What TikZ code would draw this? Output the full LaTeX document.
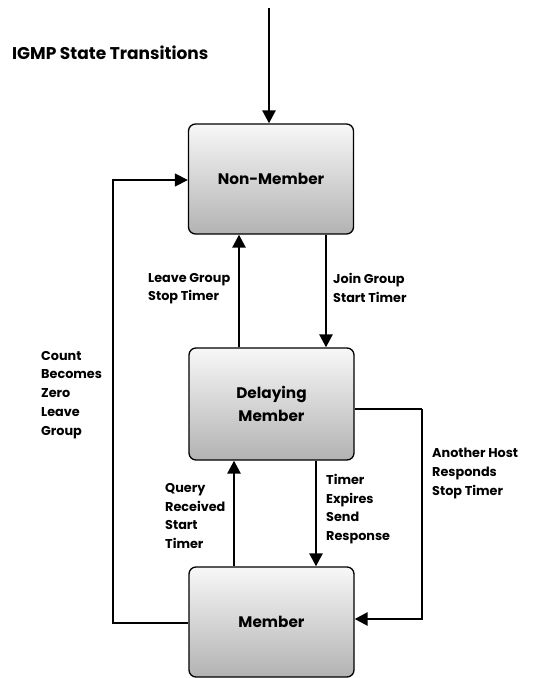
\documentclass[tikz,border=0pt]{standalone}
\usepackage{fontspec}
\setmainfont{Poppins}
\usetikzlibrary{arrows.meta}
\begin{document}
\begin{tikzpicture}[x=1pt,y=1pt,
  state/.style={draw=black, line width=1.3pt, rounded corners=7pt,
    top color=gray!6, bottom color=gray!60, minimum width=165pt,
    font=\bfseries\fontsize{15.3}{23}\selectfont, align=center},
  thick arrow/.style={line width=2.6pt, -{Triangle[length=13pt,width=13pt]}},
  thin arrow/.style={line width=1.3pt, -{Triangle[length=13pt,width=13pt]}},
  lbl/.style={font=\bfseries\fontsize{12.8}{18.7}\selectfont, align=left,
    anchor=north west, inner sep=0pt}]
\useasboundingbox (0,0) rectangle (545,-678);

% states
\node[state, minimum height=110pt] (nm) at (271,-179) {Non-Member};
\node[state, minimum height=112pt] (dm) at (271.5,-404) {Delaying\\Member};
\node[state, minimum height=110pt] (mb) at (271.5,-622) {Member};

% title
\node[font=\bfseries\fontsize{17}{20}\selectfont, anchor=west, inner sep=0pt]
  (title) at (12,-53) {IGMP State Transitions};

% entry arrow
\coordinate (start) at (269,-8);
\draw[thick arrow] (start) -- (nm.north -| start);

% Non-Member <-> Delaying Member
\draw[thick arrow] (dm.north -| 239,0) -- (nm.south -| 239,0);
\draw[thick arrow] (nm.south -| 326,0) -- (dm.north -| 326,0);
\node[lbl] (lg) at (148,-273) {Leave Group\\Stop Timer};
\node[lbl] (jg) at (333,-273) {Join Group\\Start Timer};

% Delaying Member <-> Member
\draw[thick arrow] (mb.north -| 234,0) -- (dm.south -| 234,0);
\draw[thick arrow] (dm.south -| 316,0) -- (mb.north -| 316,0);
\node[lbl] (qr) at (165,-483) {Query\\Received\\Start\\Timer};
\node[lbl] (te) at (326,-474) {Timer\\Expires\\Send\\Response};

% Delaying Member -> Member (another host responds)
\coordinate (rt) at (422,-409);
\coordinate (rb) at (422,-619);
\draw[line width=1.3pt] (dm.east |- rt) -- (rt);
\draw[thick arrow] (rt) -- (rb) -- (mb.east |- rb);
\node[lbl] (ah) at (432,-448) {Another Host\\Responds\\Stop Timer};

% Member -> Non-Member (count becomes zero)
\coordinate (lb) at (113,-623);
\coordinate (lt) at (113,-180);
\draw[thin arrow] (mb.west |- lb) -- (lb) -- (lt) -- (nm.west |- lt);
\node[lbl] (cz) at (41,-351) {Count\\Becomes\\Zero\\Leave\\Group};
\end{tikzpicture}
\end{document}
